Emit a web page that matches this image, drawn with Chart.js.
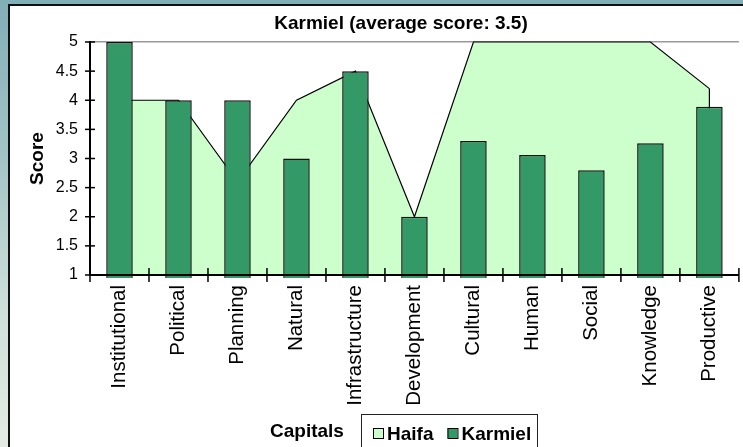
<!DOCTYPE html>
<html>
<head>
<meta charset="utf-8">
<script src="https://cdn.jsdelivr.net/npm/chart.js@4"></script>
<style>
  html, body { margin: 0; padding: 0; width: 743px; height: 447px; overflow: hidden; }
  body { background: linear-gradient(180deg, #82aeb8 0%, #a3c4c6 35%, #cfe0da 70%, #e3ebe4 100%); }
  #frame { position: absolute; left: 8px; top: 4px; width: 740px; height: 450px; background: #fff;
           border-left: 2px solid #111; border-top: 2px solid #111; }
  canvas { position: absolute; left: 0; top: 0; }
</style>
</head>
<body>
<div id="frame"><canvas id="chart" width="734" height="442"></canvas></div>
<script>
const chartTitle = "Karmiel (average score: 3.5)";
const xTitle = "Capitals";
const yTitle = "Score";
const categories = ["Institutional", "Political", "Planning", "Natural", "Infrastructure",
  "Development", "Cultural", "Human", "Social", "Knowledge", "Productive"];
const haifaScores = [4, 4, 2.6, 4, 4.5, 2, 5, 5, 5, 5, 4.2];
const karmielScores = [5, 4, 4, 3, 4.5, 2, 3.3, 3.06, 2.8, 3.26, 3.89];
const yMin = 1, yMax = 5, yStep = 0.5;

const FONT = "'Liberation Sans', Arial, sans-serif";

// tick marks that cross the axes, like the original
const crossTicks = {
  id: "crossTicks",
  afterDatasetDraw(chart, args) {
    // vertical sides of the Haifa area
    if (args.index !== 0) return;
    const { ctx, scales: { y } } = chart;
    const pts = args.meta.data;
    ctx.save();
    ctx.strokeStyle = "#000";
    ctx.lineWidth = 1.2;
    [pts[0], pts[pts.length - 1]].forEach(p => {
      ctx.beginPath();
      ctx.moveTo(p.x, p.y);
      ctx.lineTo(p.x, y.getPixelForValue(yMin));
      ctx.stroke();
    });
    ctx.restore();
  },
  afterDatasetsDraw(chart) {
    const { ctx, scales: { x, y } } = chart;
    ctx.save();
    ctx.strokeStyle = "#000";
    ctx.lineWidth = 1.5;
    y.ticks.forEach((t, i) => {
      const py = y.getPixelForTick(i);
      ctx.beginPath();
      ctx.moveTo(x.left - 5, py);
      ctx.lineTo(x.left + 5, py);
      ctx.stroke();
    });
    const n = categories.length;
    for (let i = 0; i <= n; i++) {
      const px = x.left + (i * x.width) / n;
      ctx.beginPath();
      ctx.moveTo(px, y.bottom - 7);
      ctx.lineTo(px, y.bottom + 7);
      ctx.stroke();
    }
    ctx.restore();
  }
};

// title, x title and boxed legend
const decorations = {
  id: "decorations",
  afterDraw(chart) {
    const ctx = chart.ctx;
    ctx.save();
    ctx.fillStyle = "#000";
    ctx.font = "bold 19px " + FONT;
    ctx.textAlign = "center";
    ctx.textBaseline = "middle";
    ctx.fillText(chartTitle, 391, 18);

    ctx.textAlign = "left";
    ctx.textBaseline = "alphabetic";
    ctx.fillText(xTitle, 260, 431);

    // legend box
    ctx.strokeStyle = "#222";
    ctx.lineWidth = 1;
    ctx.strokeRect(351.5, 408.5, 176, 60);

    let lx = 363;
    chart.data.datasets.forEach(ds => {
      ctx.fillStyle = ds.backgroundColor;
      ctx.fillRect(lx, 422, 10, 10);
      ctx.strokeStyle = "#000";
      ctx.strokeRect(lx + 0.5, 422.5, 10, 10);
      ctx.fillStyle = "#000";
      ctx.fillText(ds.label, lx + 14, 434);
      lx += 14 + ctx.measureText(ds.label).width + 14;
    });
    ctx.restore();
  }
};

new Chart(document.getElementById("chart"), {
  data: {
    labels: categories,
    datasets: [
      {
        type: "line",
        label: "Haifa",
        data: haifaScores,
        order: 2,
        fill: "start",
        backgroundColor: "#CCFFCC",
        borderColor: "#000",
        borderWidth: 1.2,
        pointRadius: 0,
        tension: 0,
        clip: 3,
      },
      {
        type: "bar",
        label: "Karmiel",
        data: karmielScores,
        order: 1,
        backgroundColor: "#339966",
        borderColor: "#111",
        borderWidth: 1.5,
        barPercentage: 1,
        categoryPercentage: 0.45,
        clip: 3,
      },
    ],
  },
  options: {
    responsive: false,
    animation: false,
    layout: { padding: { top: 36, left: 0, right: 0, bottom: 0 } },
    plugins: {
      legend: { display: false },
      title: { display: false },
      tooltip: { enabled: false },
    },
    scales: {
      x: {
        offset: true,
        grid: { display: false, offset: true, drawTicks: false },
        border: { color: "#000", width: 2, z: 1 },
        ticks: {
          autoSkip: false,
          maxRotation: 90,
          minRotation: 90,
          padding: 10,
          color: "#000",
          font: { family: FONT, size: 20.5 },
        },
        afterFit(scale) { scale.height = 173; },
      },
      y: {
        min: yMin,
        max: yMax,
        ticks: {
          stepSize: yStep,
          padding: 12,
          color: "#000",
          font: { family: FONT, size: 16 },
          callback: (v) => String(v),
        },
        grid: {
          drawTicks: false,
          lineWidth: 1.5,
          color: (c) => (c.tick && c.tick.value === yMax ? "#999" : "transparent"),
        },
        border: { color: "#000", width: 2, z: 1 },
        title: {
          display: true,
          text: yTitle,
          color: "#000",
          padding: { top: 16, bottom: 0 },
          font: { family: FONT, size: 19, weight: "bold" },
        },
        afterFit(scale) { scale.width = 80; },
      },
    },
  },
  plugins: [crossTicks, decorations],
});
</script>
</body>
</html>
